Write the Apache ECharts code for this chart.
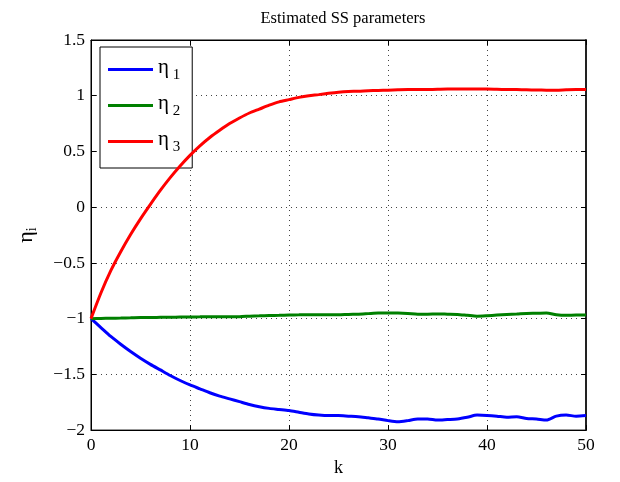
<!DOCTYPE html>
<html>
<head>
<meta charset="utf-8">
<script src="https://cdn.jsdelivr.net/npm/echarts@6/dist/echarts.min.js"></script>
<style>
html,body{margin:0;padding:0;background:#fff;}
#main{width:620px;height:482px;}
</style>
</head>
<body>
<div id="main"></div>
<script>
// k = 0..50
var kValues = [];
for (var i = 0; i <= 50; i++) kValues.push(i);

var eta1 = [-1, -1.08, -1.16, -1.23, -1.295, -1.355, -1.41, -1.46, -1.51, -1.555,
	-1.595, -1.63, -1.665, -1.695, -1.72, -1.745, -1.77, -1.79, -1.805, -1.815,
	-1.825, -1.84, -1.855, -1.865, -1.87, -1.87, -1.875, -1.88, -1.89, -1.90,
	-1.915, -1.925, -1.915, -1.90, -1.90, -1.91, -1.905, -1.90, -1.885, -1.865,
	-1.868, -1.875, -1.885, -1.88, -1.895, -1.90, -1.91, -1.875, -1.865, -1.875, -1.87];

var eta2 = [-1, -0.998, -0.996, -0.995, -0.993, -0.99, -0.99, -0.988, -0.987, -0.986,
	-0.985, -0.984, -0.983, -0.983, -0.982, -0.982, -0.978, -0.975, -0.972, -0.97,
	-0.967, -0.966, -0.965, -0.966, -0.965, -0.966, -0.962, -0.96, -0.955, -0.95,
	-0.95, -0.95, -0.953, -0.96, -0.96, -0.958, -0.96, -0.962, -0.97, -0.978,
	-0.974, -0.968, -0.962, -0.958, -0.953, -0.952, -0.95, -0.965, -0.97, -0.968, -0.968];

var eta3 = [-1, -0.77, -0.57, -0.40, -0.245, -0.105, 0.025, 0.15, 0.265, 0.37,
	0.465, 0.55, 0.625, 0.69, 0.75, 0.80, 0.845, 0.88, 0.915, 0.945,
	0.965, 0.985, 1.00, 1.01, 1.022, 1.032, 1.038, 1.04, 1.045, 1.048,
	1.05, 1.053, 1.055, 1.055, 1.056, 1.058, 1.06, 1.06, 1.06, 1.06,
	1.06, 1.058, 1.056, 1.055, 1.053, 1.051, 1.05, 1.05, 1.053, 1.055, 1.055];

var seriesNames = ['eta1', 'eta2', 'eta3'];
var seriesColors = ['#0000ff', '#008000', '#ff0000'];

var font = 'Liberation Serif';

function pairs(ys){
	var out = [];
	for (var i = 0; i < ys.length; i++) out.push([kValues[i], ys[i]]);
	return out;
}
function minus(v){
	return String(v).replace('-', '\u2212');
}

var dom = document.getElementById('main');
var myChart = echarts.init(dom, null, {renderer: 'canvas'});

var gridLine = {show: true, lineStyle: {color: '#444', type: [1, 4], width: 1}};
var tickIn = {show: true, inside: true, length: 5, lineStyle: {color: '#000'}};

var option = {
	backgroundColor: '#fff',
	animation: false,
	title: {
		text: 'Estimated SS parameters',
		left: 338, top: 5, textAlign: 'center',
		textStyle: {fontFamily: font, fontSize: 16.5, fontWeight: 'normal', color: '#000'}
	},
	grid: {left: 91, right: 34, top: 40, bottom: 51, show: true, borderColor: '#000', borderWidth: 1},
	legend: {
		orient: 'vertical',
		left: 100, top: 47,
		padding: [10, 12, 13, 8],
		itemGap: 10,
		itemWidth: 45, itemHeight: 3,
		backgroundColor: '#fff',
		borderColor: '#000', borderWidth: 1, borderRadius: 0,
		icon: 'rect',
		data: seriesNames,
		formatter: function(name){
			return '{a|η}{b| ' + name.slice(3) + '}';
		},
		textStyle: {
			rich: {
				a: {fontFamily: font, fontSize: 21, color: '#000', padding: [0, 0, 4, 0]},
				b: {fontFamily: font, fontSize: 15, color: '#000', verticalAlign: 'bottom', padding: [12, 0, 0, 0]}
			}
		}
	},
	xAxis: [{
		type: 'value', min: 0, max: 50, interval: 10,
		name: 'k', nameLocation: 'middle', nameGap: 26,
		nameTextStyle: {fontFamily: font, fontSize: 18, color: '#000'},
		axisLine: {show: true, onZero: false, lineStyle: {color: '#000'}},
		axisTick: tickIn,
		splitLine: gridLine,
		axisLabel: {fontFamily: font, fontSize: 17.5, color: '#000', margin: 6}
	}, {
		type: 'value', min: 0, max: 50, interval: 10, position: 'top',
		axisLine: {show: true, onZero: false, lineStyle: {color: '#000'}},
		axisTick: tickIn,
		axisLabel: {show: false}, splitLine: {show: false}
	}],
	yAxis: [{
		type: 'value', min: -2, max: 1.5, interval: 0.5,
		name: '{a|η}{b|i}', nameLocation: 'middle', nameGap: 52, nameRotate: 90,
		nameTextStyle: {
			rich: {
				a: {fontFamily: font, fontSize: 22, color: '#000'},
				b: {fontFamily: font, fontSize: 14, color: '#000', padding: [12, 0, 0, 0]}
			}
		},
		axisLine: {show: true, onZero: false, lineStyle: {color: '#000'}},
		axisTick: tickIn,
		splitLine: gridLine,
		axisLabel: {fontFamily: font, fontSize: 17.5, color: '#000', margin: 6, formatter: minus}
	}, {
		type: 'value', min: -2, max: 1.5, interval: 0.5, position: 'right',
		axisLine: {show: true, onZero: false, lineStyle: {color: '#222', width: 2}},
		axisTick: tickIn,
		axisLabel: {show: false}, splitLine: {show: false}
	}],
	series: [eta1, eta2, eta3].map(function(ys, i){
		return {
			name: seriesNames[i],
			type: 'line',
			data: pairs(ys),
			showSymbol: false,
			smooth: 0.25,
			color: seriesColors[i],
			lineStyle: {width: 3, color: seriesColors[i]},
			z: 3 + i
		};
	})
};
myChart.setOption(option);
</script>
</body>
</html>
